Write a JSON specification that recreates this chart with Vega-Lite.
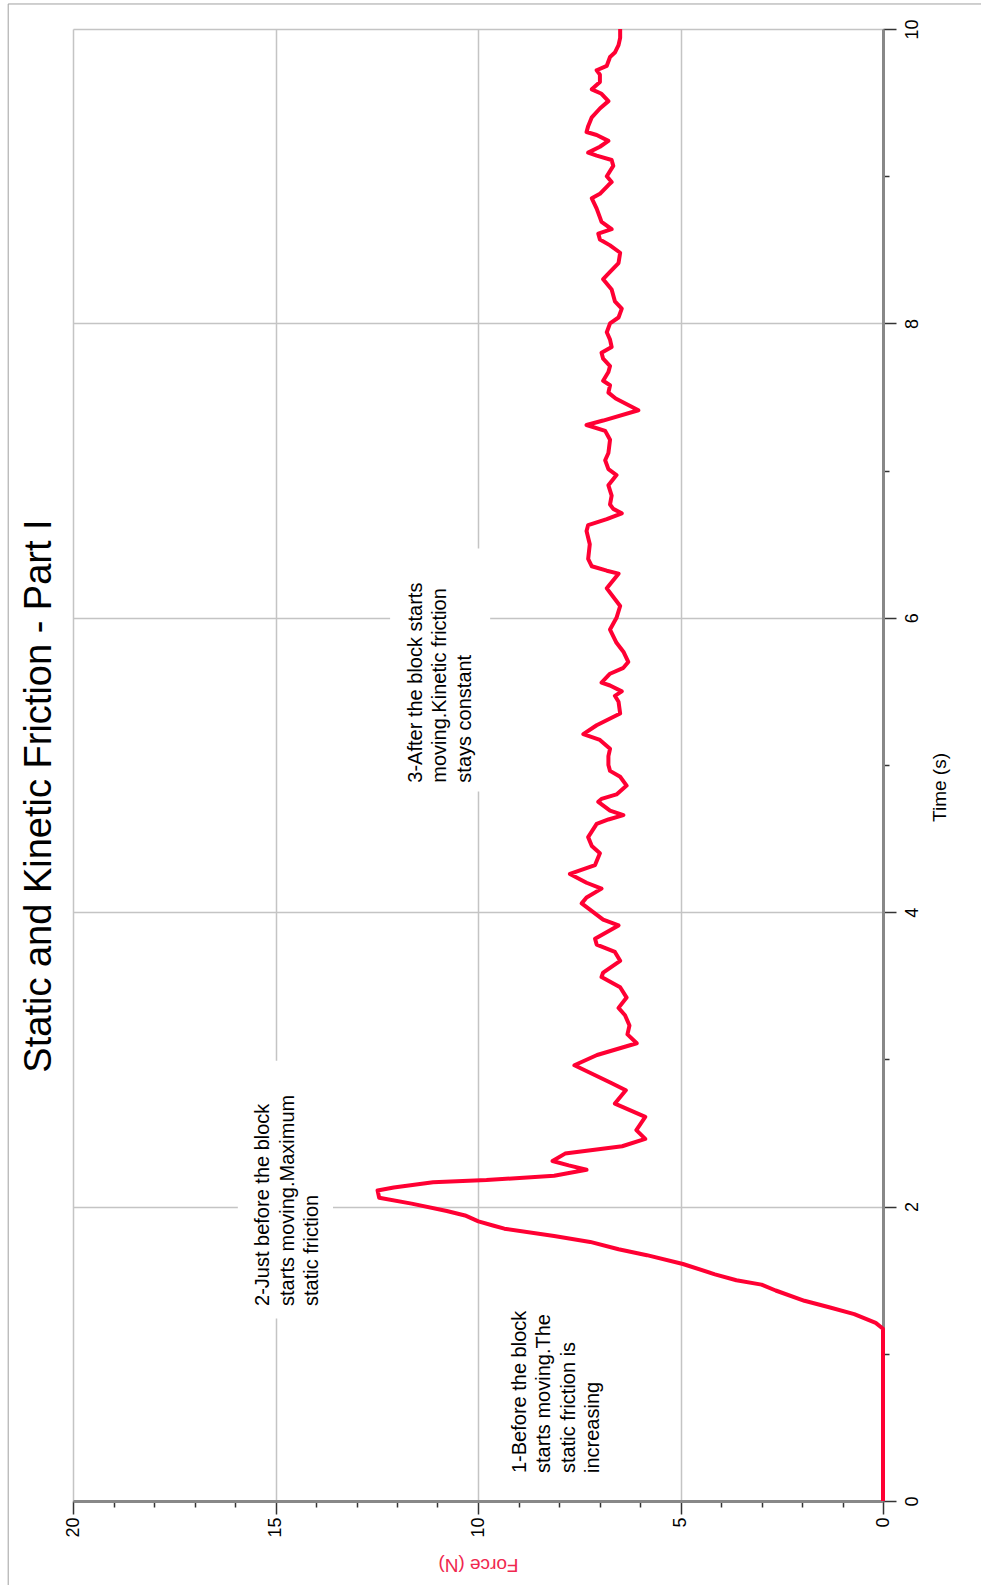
{
  "$schema": "https://vega.github.io/schema/vega-lite/v6.json",
  "width": 810,
  "height": 1472,
  "autosize": {"type": "none"},
  "padding": {"left": 73, "top": 29, "right": 98, "bottom": 84},
  "background": "white",
  "config": {
    "view": {"stroke": null},
    "font": "Liberation Sans"
  },
  "title": {
    "text": "Static and Kinetic Friction - Part I",
    "orient": "left",
    "anchor": "middle",
    "fontSize": 38,
    "fontWeight": "normal",
    "font": "Liberation Sans",
    "color": "black",
    "offset": -51,
    "dx": -31
  },
  "datasets": {
    "curve": [
      {"time": 0, "force": 0}, {"time": 1.17, "force": 0}, {"time": 1.21, "force": 0.18},
      {"time": 1.27, "force": 0.71}, {"time": 1.316, "force": 1.33}, {"time": 1.36, "force": 1.94},
      {"time": 1.43, "force": 2.65}, {"time": 1.47, "force": 3.0}, {"time": 1.5, "force": 3.62},
      {"time": 1.54, "force": 4.15}, {"time": 1.61, "force": 4.94}, {"time": 1.67, "force": 5.83},
      {"time": 1.71, "force": 6.53}, {"time": 1.76, "force": 7.23}, {"time": 1.8, "force": 8.12},
      {"time": 1.85, "force": 9.35}, {"time": 1.87, "force": 9.61}, {"time": 1.9, "force": 9.99},
      {"time": 1.94, "force": 10.32}, {"time": 1.97, "force": 10.77}, {"time": 2.02, "force": 11.64},
      {"time": 2.06, "force": 12.44}, {"time": 2.11, "force": 12.48}, {"time": 2.13, "force": 12.08},
      {"time": 2.165, "force": 11.11}, {"time": 2.18, "force": 9.79}, {"time": 2.21, "force": 8.12},
      {"time": 2.25, "force": 7.32}, {"time": 2.28, "force": 7.76}, {"time": 2.31, "force": 8.16},
      {"time": 2.36, "force": 7.85}, {"time": 2.41, "force": 6.44}, {"time": 2.46, "force": 5.87},
      {"time": 2.52, "force": 6.09}, {"time": 2.61, "force": 5.87}, {"time": 2.7, "force": 6.62},
      {"time": 2.79, "force": 6.35}, {"time": 2.84, "force": 6.71}, {"time": 2.96, "force": 7.62},
      {"time": 3.03, "force": 7.06}, {"time": 3.11, "force": 6.08}, {"time": 3.17, "force": 6.31},
      {"time": 3.23, "force": 6.26}, {"time": 3.3, "force": 6.37}, {"time": 3.35, "force": 6.53},
      {"time": 3.42, "force": 6.33}, {"time": 3.49, "force": 6.49}, {"time": 3.56, "force": 6.95},
      {"time": 3.59, "force": 6.91}, {"time": 3.67, "force": 6.49}, {"time": 3.73, "force": 6.62},
      {"time": 3.78, "force": 7.07}, {"time": 3.82, "force": 7.11}, {"time": 3.91, "force": 6.53},
      {"time": 3.95, "force": 6.91}, {"time": 4.06, "force": 7.44}, {"time": 4.1, "force": 7.32},
      {"time": 4.16, "force": 6.95}, {"time": 4.2, "force": 7.32}, {"time": 4.26, "force": 7.73},
      {"time": 4.32, "force": 7.11}, {"time": 4.4, "force": 6.99}, {"time": 4.45, "force": 7.19},
      {"time": 4.51, "force": 7.28}, {"time": 4.6, "force": 7.07}, {"time": 4.63, "force": 6.78},
      {"time": 4.66, "force": 6.41}, {"time": 4.69, "force": 6.74}, {"time": 4.75, "force": 7.03},
      {"time": 4.77, "force": 6.95}, {"time": 4.8, "force": 6.58}, {"time": 4.86, "force": 6.33},
      {"time": 4.92, "force": 6.49}, {"time": 4.96, "force": 6.74}, {"time": 5.0, "force": 6.78},
      {"time": 5.06, "force": 6.78}, {"time": 5.11, "force": 6.74}, {"time": 5.17, "force": 6.99},
      {"time": 5.21, "force": 7.4}, {"time": 5.27, "force": 7.07}, {"time": 5.35, "force": 6.49},
      {"time": 5.43, "force": 6.53}, {"time": 5.47, "force": 6.62}, {"time": 5.5, "force": 6.45},
      {"time": 5.54, "force": 6.74}, {"time": 5.56, "force": 6.95}, {"time": 5.62, "force": 6.74},
      {"time": 5.66, "force": 6.41}, {"time": 5.7, "force": 6.29}, {"time": 5.77, "force": 6.41},
      {"time": 5.83, "force": 6.58}, {"time": 5.92, "force": 6.74}, {"time": 6.0, "force": 6.58},
      {"time": 6.08, "force": 6.49}, {"time": 6.2, "force": 6.82}, {"time": 6.3, "force": 6.53},
      {"time": 6.32, "force": 6.82}, {"time": 6.35, "force": 7.19}, {"time": 6.4, "force": 7.28},
      {"time": 6.5, "force": 7.24}, {"time": 6.59, "force": 7.32}, {"time": 6.63, "force": 7.28},
      {"time": 6.67, "force": 6.82}, {"time": 6.71, "force": 6.45}, {"time": 6.74, "force": 6.66},
      {"time": 6.77, "force": 6.74}, {"time": 6.83, "force": 6.7}, {"time": 6.9, "force": 6.78},
      {"time": 6.97, "force": 6.58}, {"time": 7.01, "force": 6.78}, {"time": 7.07, "force": 6.86},
      {"time": 7.12, "force": 6.78}, {"time": 7.21, "force": 6.74}, {"time": 7.27, "force": 6.86},
      {"time": 7.31, "force": 7.32}, {"time": 7.34, "force": 6.91}, {"time": 7.41, "force": 6.04},
      {"time": 7.49, "force": 6.6}, {"time": 7.53, "force": 6.78}, {"time": 7.58, "force": 6.74},
      {"time": 7.61, "force": 6.91}, {"time": 7.67, "force": 6.78}, {"time": 7.71, "force": 6.74},
      {"time": 7.76, "force": 6.91}, {"time": 7.8, "force": 6.95}, {"time": 7.84, "force": 6.7},
      {"time": 7.89, "force": 6.74}, {"time": 7.94, "force": 6.82}, {"time": 8.0, "force": 6.74},
      {"time": 8.04, "force": 6.53}, {"time": 8.1, "force": 6.45}, {"time": 8.15, "force": 6.62},
      {"time": 8.23, "force": 6.7}, {"time": 8.3, "force": 6.91}, {"time": 8.35, "force": 6.74},
      {"time": 8.41, "force": 6.53}, {"time": 8.48, "force": 6.49}, {"time": 8.53, "force": 6.74},
      {"time": 8.57, "force": 6.99}, {"time": 8.61, "force": 7.03}, {"time": 8.64, "force": 6.7},
      {"time": 8.69, "force": 6.95}, {"time": 8.72, "force": 6.99}, {"time": 8.78, "force": 7.07},
      {"time": 8.85, "force": 7.19}, {"time": 8.88, "force": 6.99}, {"time": 8.94, "force": 6.78},
      {"time": 8.96, "force": 6.7}, {"time": 9.0, "force": 6.82}, {"time": 9.07, "force": 6.66},
      {"time": 9.11, "force": 6.7}, {"time": 9.14, "force": 7.07}, {"time": 9.16, "force": 7.28},
      {"time": 9.2, "force": 6.99}, {"time": 9.24, "force": 6.78}, {"time": 9.28, "force": 7.07},
      {"time": 9.3, "force": 7.32}, {"time": 9.34, "force": 7.28}, {"time": 9.4, "force": 7.19},
      {"time": 9.46, "force": 6.99}, {"time": 9.51, "force": 6.78}, {"time": 9.56, "force": 6.95},
      {"time": 9.59, "force": 7.19}, {"time": 9.64, "force": 6.99}, {"time": 9.69, "force": 6.99},
      {"time": 9.72, "force": 7.07}, {"time": 9.75, "force": 6.82}, {"time": 9.81, "force": 6.74},
      {"time": 9.84, "force": 6.62}, {"time": 9.89, "force": 6.53}, {"time": 9.94, "force": 6.49},
      {"time": 10.0, "force": 6.49}
    ],
    "boxes": [
      {"f1": 15.93, "f2": 13.58, "t1": 1.24, "t2": 2.99},
      {"f1": 12.17, "f2": 9.7, "t1": 4.82, "t2": 6.47}
    ],
    "notes": [
      {"force": 9.22, "time": 0.19, "label": "1-Before the block\nstarts moving.The\nstatic friction is\nincreasing"},
      {"force": 15.55, "time": 1.325, "label": "2-Just before the block\nstarts moving.Maximum\nstatic friction"},
      {"force": 11.79, "time": 4.88, "label": "3-After the block starts\nmoving.Kinetic friction\nstays constant"}
    ]
  },
  "layer": [
    {
      "data": {"name": "curve"},
      "mark": {"type": "line", "color": "#ff0033", "strokeWidth": 4, "strokeJoin": "round", "interpolate": "linear"},
      "encoding": {
        "x": {
          "field": "force", "type": "quantitative",
          "scale": {"domain": [0, 20], "reverse": true, "nice": false, "zero": false},
          "axis": {
            "orient": "bottom",
            "title": "Force (N)",
            "titleColor": "#f0284f",
            "titleFont": "Liberation Sans",
            "titleFontSize": 19,
            "titleFontWeight": "normal",
            "titleAngle": 180,
            "titleBaseline": "middle",
            "titleAlign": "center",
            "titleY": 63,
            "values": [0,1,2,3,4,5,6,7,8,9,10,11,12,13,14,15,16,17,18,19,20],
            "format": "d",
            "labelExpr": "datum.value % 5 === 0 ? datum.label : ''",
            "labelAngle": -90,
            "labelAlign": "right",
            "labelBaseline": "middle",
            "labelFontSize": 18,
            "labelColor": "black",
            "labelPadding": 3,
            "labelFlush": false,
            "labelOverlap": false,
            "domainColor": "#888888",
            "domainWidth": 3,
            "tickColor": "#333333",
            "tickWidth": 1.5,
            "tickSize": {"condition": {"test": "datum.value % 5 === 0", "value": 13}, "value": 6},
            "grid": true,
            "gridColor": "#c4c4c4",
            "gridWidth": 1.5,
            "gridOpacity": {"condition": {"test": "datum.value % 5 === 0", "value": 1}, "value": 0}
          }
        },
        "y": {
          "field": "time", "type": "quantitative",
          "scale": {"domain": [0, 10], "nice": false, "zero": false},
          "axis": {
            "orient": "right",
            "title": "Time (s)",
            "titleColor": "black",
            "titleFont": "Liberation Sans",
            "titleFontSize": 19,
            "titleFontWeight": "normal",
            "titleAngle": -90,
            "titleAlign": "center",
            "titleBaseline": "middle",
            "titleX": 56,
            "titleY": 758,
            "values": [0,1,2,3,4,5,6,7,8,9,10],
            "format": "d",
            "labelExpr": "datum.value % 2 === 0 ? datum.label : ''",
            "labelAngle": -90,
            "labelAlign": "center",
            "labelBaseline": "top",
            "labelFontSize": 18,
            "labelColor": "black",
            "labelPadding": 7,
            "labelFlush": false,
            "labelOverlap": false,
            "domainColor": "#888888",
            "domainWidth": 3,
            "tickColor": "#333333",
            "tickWidth": 1.5,
            "tickSize": {"condition": {"test": "datum.value % 2 === 0", "value": 13}, "value": 6},
            "grid": true,
            "gridColor": "#c4c4c4",
            "gridWidth": 1.5,
            "gridOpacity": {"condition": {"test": "datum.value % 2 === 0", "value": 1}, "value": 0}
          }
        },
        "order": {"field": "time", "type": "quantitative"}
      }
    },
    {
      "data": {"name": "boxes"},
      "mark": {"type": "rect", "fill": "white", "strokeWidth": 0},
      "encoding": {
        "x": {"field": "f1", "type": "quantitative"},
        "x2": {"field": "f2"},
        "y": {"field": "t1", "type": "quantitative"},
        "y2": {"field": "t2"}
      }
    },
    {
      "data": {"name": "notes"},
      "mark": {"type": "text", "angle": -90, "align": "left", "baseline": "top", "fontSize": 20, "lineHeight": 24.5, "lineBreak": "\n", "font": "Liberation Sans", "color": "black"},
      "encoding": {
        "x": {"field": "force", "type": "quantitative"},
        "y": {"field": "time", "type": "quantitative"},
        "text": {"field": "label"}
      }
    },
    {
      "data": {"values": [{}]},
      "mark": {"type": "rect", "fill": "transparent", "stroke": "#a0a0a0", "strokeWidth": 1, "clip": false},
      "encoding": {
        "x": {"datum": 21.6, "type": "quantitative"},
        "x2": {"datum": -5},
        "y": {"datum": 10.17, "type": "quantitative"},
        "y2": {"datum": -1}
      }
    }
  ]
}
